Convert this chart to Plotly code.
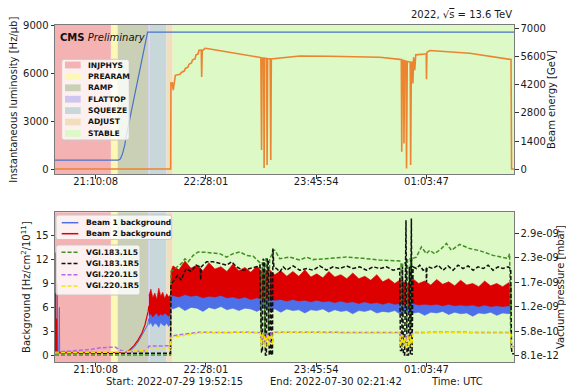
import plotly.graph_objects as go
from datetime import datetime, timedelta

# ---------------- data (time = minutes after 2022-07-29 20:00 UTC) ----------------
T0 = datetime(2022, 7, 29, 20, 0, 0)

# LHC beam modes
band_names = ["INJPHYS", "PREARAM", "RAMP", "FLATTOP", "SQUEEZE", "ADJUST", "STABLE"]
band_edges = [-7.75, 80.9, 85.65, 107.25, 108.1, 120.2, 124.5, 381.7]
band_colors = ["rgb(245,178,178)", "rgb(253,248,182)", "rgb(201,208,182)", "rgb(206,198,238)",
               "rgb(200,216,218)", "rgb(241,223,188)", "rgb(221,249,198)"]

# top panel: beam energy [GeV]
en_t = [41.4, 86.1, 87.6, 89.0, 90.5, 92.2, 106.8, 365.6]
en_v = [450, 450, 520, 750, 1150, 1800, 6800, 6800]

# top panel: instantaneous luminosity [Hz/ub]
lum_t = [41.4, 123.1, 123.3, 124.2, 124.9, 125.7, 126.4, 129.6, 130.7, 132.8, 133.5, 135.3, 136.0,
         137.8, 138.5, 140.3, 141.0, 142.4, 143.1, 144.7, 145.0, 145.4, 146.6, 147.3, 148.7,
         186.8, 187.3, 187.7, 188.8, 189.1, 189.5, 190.9, 191.2, 191.6, 193.4, 193.8, 194.2,
         200.2, 214.3, 235.5, 256.7, 270.8, 284.9, 286.0, 286.3, 286.7, 287.6, 287.9, 288.3,
         289.3, 289.7, 290.2, 292.3, 292.6, 293.1, 294.0, 294.2, 294.7, 295.5, 296.2, 302.5,
         303.6, 303.8, 304.1, 306.1, 334.3, 363.5, 363.9, 365.6]
lum_v = [0, 0, 5390, 5400, 4940, 5400, 5870, 5930, 6050, 6150, 6300, 6380, 6560,
         6650, 6830, 6900, 7150, 7200, 7440, 7450, 5770, 7400, 7500, 7560, 7550,
         6980, 1190, 6960, 6950, 60, 6940, 6930, 250, 6920, 6910, 560, 6900,
         6960, 7080, 7060, 7000, 7000, 6870, 6850, 1080, 6820, 6800, 1600, 6780,
         6760, 40, 6740, 6700, 250, 6680, 6700, 5350, 7000, 6190, 7150, 7200,
         7200, 5620, 7300, 7420, 7250, 6860, 0, 0]

# bottom panel: beam backgrounds [Hz/cm2/1e11] - quiet part (single line)
b1_line_t = [41.4, 42.9, 43.0, 43.2, 44.0, 44.1, 44.3, 44.5, 44.7, 92.2, 95.0, 97.8, 100.6, 103.5, 106.8, 107.7]
b1_line_v = [0.4, 0.4, 9.0, 0.4, 0.4, 6.0, 0.4, 6.0, 0.4, 0.35, 0.6, 1.1, 1.8, 2.8, 3.8, 4.6]
b2_line_t = [41.4, 41.5, 41.7, 41.8, 42.0, 42.3, 42.5, 42.6, 42.8, 91.5, 94.3, 97.2, 100.0, 102.8, 104.9, 106.3, 107.2, 107.7]
b2_line_v = [0.3, 12.9, 0.3, 12.6, 0.3, 4.6, 0.3, 4.4, 0.3, 0.35, 0.7, 1.2, 1.9, 2.8, 3.8, 4.7, 5.5, 6.2]

# bottom panel: beam backgrounds - noisy part (envelope, squeeze + stable beams)
sq_t = [107.7, 109.1, 110.5, 111.9, 113.3, 114.7, 116.1, 117.5, 118.9, 120.3, 121.7, 123.0]
b2_sq_hi = [7.5, 8.3, 7.2, 7.8, 7.0, 8.4, 7.4, 7.9, 7.1, 7.7, 7.3, 7.6]
b2_sq_lo = [5.0, 5.2, 4.8, 5.1, 5.3, 4.9, 5.2, 5.0, 5.3, 5.1, 4.9, 5.2]
b1_sq_hi = [5.6, 5.9, 5.5, 5.8, 5.7, 5.9, 5.6, 5.8, 5.5, 5.7, 5.6, 5.8]
b1_sq_lo = [3.8, 4.1, 3.6, 4.0, 3.9, 3.5, 4.1, 3.8, 3.7, 4.0, 3.6, 3.9]

st_t = [123.4, 124.7, 128.9, 133.2, 137.4, 141.6, 145.9, 150.1, 154.3, 158.6, 162.8, 167.0, 171.3,
        175.5, 179.7, 184.0, 188.2, 192.4, 196.7, 200.9, 205.1, 209.4, 213.6, 217.9, 222.1, 226.3,
        230.6, 234.8, 239.0, 243.3, 247.5, 251.7, 256.0, 260.2, 264.4, 268.7, 272.9, 277.1, 281.4,
        285.6, 289.8, 294.1, 298.3, 302.5, 306.8, 311.0, 315.2, 319.5, 323.7, 327.9, 332.2, 336.4,
        340.7, 344.9, 349.1, 353.4, 357.6, 361.8, 363.6]
b2_st_hi = [10.6, 11.2, 10.7, 11.8, 10.9, 11.3, 10.6, 11.6, 10.8, 11.1, 10.5, 11.4, 10.6,
            11.0, 10.4, 11.2, 10.3, 10.8, 10.1, 10.6, 9.9, 10.5, 9.9, 10.7, 9.8, 10.2,
            9.7, 10.5, 9.8, 10.1, 9.6, 10.3, 9.6, 9.9, 9.4, 10.1, 9.2, 9.6, 9.0,
            9.5, 8.9, 9.6, 9.0, 9.3, 8.8, 9.5, 8.9, 9.2, 8.7, 9.4, 8.8, 9.0,
            8.6, 9.3, 8.7, 9.0, 8.6, 9.1, 8.7]
b2_st_lo = [7.4, 7.5, 7.3, 7.6, 7.4, 7.5, 7.2, 7.4, 7.3, 7.5, 7.2, 7.3, 7.1,
            7.3, 7.0, 7.2, 7.0, 7.1, 6.9, 7.0, 6.8, 7.0, 6.8, 6.9, 6.7, 6.9,
            6.7, 6.8, 6.6, 6.8, 6.6, 6.7, 6.5, 6.7, 6.5, 6.6, 6.4, 6.6, 6.4,
            6.5, 6.3, 6.5, 6.3, 6.4, 6.3, 6.4, 6.2, 6.4, 6.2, 6.3, 6.2, 6.3,
            6.1, 6.3, 6.1, 6.2, 6.1, 6.2, 6.1]
b1_st_hi = [8.0, 8.1, 7.9, 8.2, 8.0, 8.1, 7.8, 8.0, 7.9, 8.1, 7.8, 7.9, 7.7,
            7.9, 7.6, 7.8, 7.6, 7.7, 7.5, 7.6, 7.4, 7.6, 7.4, 7.5, 7.3, 7.5,
            7.3, 7.4, 7.2, 7.4, 7.2, 7.3, 7.1, 7.3, 7.1, 7.2, 7.0, 7.2, 7.0,
            7.1, 6.9, 7.1, 6.9, 7.0, 6.9, 7.0, 6.8, 7.0, 6.8, 6.9, 6.8, 6.9,
            6.7, 6.9, 6.7, 6.8, 6.7, 6.8, 6.7]
b1_st_lo = [6.0, 5.8, 6.1, 5.6, 6.0, 5.9, 5.5, 6.0, 5.8, 6.1, 5.7, 5.9, 5.6,
            5.9, 5.8, 5.5, 5.9, 5.7, 5.8, 5.4, 5.8, 5.6, 5.7, 5.3, 5.7, 5.6,
            5.8, 5.4, 5.7, 5.5, 5.6, 5.2, 5.6, 5.5, 5.7, 5.3, 5.5, 5.4, 5.6,
            5.1, 5.5, 5.3, 5.4, 5.0, 5.4, 5.3, 5.5, 5.1, 5.4, 5.2, 5.3, 4.9,
            5.3, 5.2, 5.4, 5.0, 5.3, 5.2, 5.3]

# bottom panel: vacuum gauges [1e-9 mbar]
g183l_t = [41.4, 123.0, 123.4, 127.3, 130.8, 133.2, 135.5, 139.0, 142.5, 148.5, 157.9, 162.6, 167.2,
           172.0, 176.7, 181.4, 184.9, 186.4, 187.0, 187.8, 189.2, 189.7, 190.4, 191.6, 192.2, 193.0,
           194.6, 195.2, 196.7, 200.2, 207.3, 214.3, 219.0, 223.7, 235.5, 247.3, 259.0, 270.8, 284.9,
           285.8, 286.3, 286.9, 289.5, 289.9, 290.4, 292.4, 292.8, 293.3, 296.6, 300.2, 303.7, 306.1,
           309.6, 314.3, 317.9, 321.4, 327.2, 334.3, 341.4, 350.8, 361.3, 362.5, 363.4, 365.6]
g183l_v = [0.03, 0.03, 2.00, 2.11, 2.19, 2.30, 2.23, 2.38, 2.46, 2.45, 2.42, 2.34, 2.42,
           2.46, 2.38, 2.36, 2.23, 2.20, 0.60, 2.20, 2.20, 0.50, 2.30, 2.30, 0.60, 2.30,
           2.40, 2.50, 2.50, 2.30, 2.34, 2.27, 2.34, 2.28, 2.31, 2.34, 2.31, 2.27, 2.25,
           2.20, 0.80, 2.20, 2.20, 0.60, 2.30, 2.30, 0.70, 2.30, 2.34, 2.58, 2.42, 2.50,
           2.42, 2.54, 2.66, 2.50, 2.64, 2.54, 2.49, 2.38, 2.31, 2.42, 0.22, 0.22]

g183r_t = [41.4, 123.0, 123.3, 125.7, 128.1, 130.5, 134.0, 137.6, 141.1, 143.9, 144.3, 144.7, 148.5,
           153.0, 157.9, 162.6, 166.1, 169.6, 174.1, 179.0, 183.7, 186.1, 187.3, 187.9, 188.4, 189.3,
           190.0, 190.7, 191.3, 192.0, 192.7, 193.4, 193.9, 194.4, 195.0, 195.3, 196.0, 197.9, 200.2,
           202.6, 204.9, 209.6, 214.3, 219.0, 223.7, 228.4, 233.2, 237.8, 242.6, 247.3, 252.0, 256.7,
           261.4, 266.1, 270.8, 275.5, 280.2, 284.9, 285.4, 286.3, 286.8, 287.5, 288.4, 289.3, 290.0,
           291.0, 291.7, 292.4, 293.1, 293.6, 294.3, 296.7, 299.0, 301.4, 303.5, 303.8, 304.1, 304.9,
           308.4, 312.0, 315.5, 319.0, 322.6, 326.1, 329.6, 333.2, 336.7, 340.2, 343.9, 347.3, 350.8,
           354.4, 357.8, 361.4, 363.3, 363.8, 364.2, 365.6]
g183r_v = [0.07, 0.07, 1.70, 1.80, 1.91, 1.80, 2.07, 2.00, 2.15, 2.11, 1.80, 2.11, 2.23,
           2.23, 2.19, 2.15, 2.23, 2.11, 2.03, 2.07, 2.11, 2.15, 0.10, 0.10, 2.30, 2.25,
           0.03, 0.03, 2.30, 2.25, 0.03, 0.03, 2.00, 0.03, 0.03, 2.54, 2.10, 2.07, 1.99,
           2.11, 2.03, 2.13, 2.03, 2.07, 2.03, 2.13, 2.03, 2.11, 2.07, 2.13, 2.07, 2.11,
           2.03, 2.11, 2.07, 2.11, 2.03, 2.07, 0.14, 0.14, 2.11, 0.03, 0.03, 3.21, 0.03,
           0.03, 2.11, 0.03, 3.25, 0.03, 2.11, 2.07, 2.15, 2.03, 2.07, 1.75, 2.07, 2.11,
           2.07, 2.15, 2.03, 2.13, 2.03, 2.15, 2.07, 2.13, 2.03, 2.11, 2.07, 2.15, 2.03,
           2.11, 2.07, 2.11, 2.07, 0.20, 0.06, 0.06]

g220l_t = [41.4, 52.0, 66.1, 73.2, 80.2, 83.8, 87.3, 90.8, 94.3, 101.4, 106.3, 107.7, 123.0, 123.4,
           129.6, 136.7, 143.7, 160.0, 175.0, 186.6, 187.5, 188.4, 190.1, 191.0, 193.0, 194.0, 196.0,
           215.0, 245.0, 275.0, 285.2, 286.0, 287.2, 288.8, 290.0, 291.6, 292.8, 294.4, 320.0, 345.0,
           363.2, 363.8, 365.6]
g220l_v = [0.10, 0.12, 0.16, 0.20, 0.22, 0.22, 0.15, 0.10, 0.10, 0.12, 0.14, 0.24, 0.25, 0.48,
           0.50, 0.54, 0.57, 0.56, 0.57, 0.56, 0.30, 0.55, 0.28, 0.55, 0.32, 0.55, 0.57,
           0.57, 0.56, 0.56, 0.56, 0.30, 0.50, 0.24, 0.50, 0.28, 0.50, 0.56, 0.57, 0.56,
           0.56, 0.22, 0.22]

g220r_t = [41.4, 85.0, 106.5, 107.5, 123.0, 123.4, 126.4, 133.5, 143.7, 157.9, 172.0, 186.4, 187.2,
           187.9, 189.4, 190.0, 190.8, 192.0, 192.6, 193.4, 194.4, 195.0, 195.8, 210.0, 240.0, 270.0,
           284.9, 285.6, 286.6, 287.5, 288.6, 289.6, 290.6, 291.4, 292.4, 293.2, 294.2, 295.5, 320.0,
           345.0, 363.2, 363.8, 365.6]
g220r_v = [0.08, 0.10, 0.14, 0.20, 0.20, 0.44, 0.46, 0.50, 0.55, 0.56, 0.55, 0.55, 0.22,
           0.50, 0.50, 0.20, 0.48, 0.48, 0.24, 0.50, 0.50, 0.28, 0.55, 0.56, 0.55, 0.55,
           0.55, 0.25, 0.50, 0.22, 0.45, 0.20, 0.50, 0.24, 0.48, 0.22, 0.52, 0.55, 0.56,
           0.55, 0.55, 0.22, 0.20]

x_tick_labels = ["21:10:08", "22:28:01", "23:45:54", "01:03:47"]
x_range = ["2022-07-29 20:41:24", "2022-07-30 02:05:36"]
lum_ticks = [0, 3000, 6000, 9000]
en_ticks = [0, 1400, 2800, 4200, 5600, 7000]
bkg_ticks = [0, 3, 6, 9, 12, 15]
vac_ticks = [8.1e-12, 5.86e-10, 1.164e-09, 1.742e-09, 2.32e-09, 2.898e-09]
vac_tick_text = ["8.1e-12", "5.8e-10", "1.2e-09", "1.7e-09", "2.3e-09", "2.9e-09"]

# ---------------- helpers ----------------
def ts(mins):
    return [T0 + timedelta(minutes=m) for m in mins]

def hms(s):
    h, m, sec = [int(v) for v in s.split(":")]
    day = 29 if h >= 12 else 30
    return datetime(2022, 7, day, h, m, sec)

W, H = 566, 387
ML, MR, MT, MB = 55, 52, 25, 25
PW, PH = W - ML - MR, H - MT - MB
def px(x):
    return (x - ML) / PW
def py(y):
    return (H - MB - y) / PH

FONT = "DejaVu Sans"
C_LUM = "#ec8430"
C_EN = "#4a72c8"
C_B1 = "#4d6fe8"
C_B2 = "#dd0000"
C_G = "#3f8f22"
C_K = "#111111"
C_P = "#b36ae6"
C_Y = "#f2e600"
DASH = "4px,2px"

fig = go.Figure()

# top panel
fig.add_trace(go.Scatter(x=ts(lum_t), y=lum_v, mode="lines", line=dict(color=C_LUM, width=1.6),
                         xaxis="x", yaxis="y", showlegend=False))
fig.add_trace(go.Scatter(x=ts(en_t), y=en_v, mode="lines", line=dict(color=C_EN, width=1.2),
                         xaxis="x", yaxis="y2", showlegend=False))

# bottom panel: backgrounds
band_t = sq_t + st_t
b1_hi = b1_sq_hi + b1_st_hi
b1_lo = b1_sq_lo + b1_st_lo
b2_hi = b2_sq_hi + b2_st_hi
b2_lo = b2_sq_lo + b2_st_lo

fig.add_trace(go.Scatter(x=ts(b1_line_t), y=b1_line_v, mode="lines", line=dict(color=C_B1, width=1),
                         xaxis="x2", yaxis="y3", showlegend=False))
fig.add_trace(go.Scatter(x=ts(band_t + band_t[::-1]), y=b1_hi + b1_lo[::-1], mode="lines",
                         fill="toself", fillcolor=C_B1, line=dict(color=C_B1, width=0.6),
                         xaxis="x2", yaxis="y3", showlegend=False))
fig.add_trace(go.Scatter(x=ts(b2_line_t), y=b2_line_v, mode="lines", line=dict(color=C_B2, width=1.2),
                         xaxis="x2", yaxis="y3", showlegend=False))
fig.add_trace(go.Scatter(x=ts(band_t + band_t[::-1]), y=b2_hi + b2_lo[::-1], mode="lines",
                         fill="toself", fillcolor=C_B2, line=dict(color=C_B2, width=0.6),
                         xaxis="x2", yaxis="y3", showlegend=False))

# bottom panel: vacuum
for tt, vv, col in [(g183l_t, g183l_v, C_G), (g183r_t, g183r_v, C_K),
                    (g220l_t, g220l_v, C_P), (g220r_t, g220r_v, C_Y)]:
    fig.add_trace(go.Scatter(x=ts(tt), y=[v * 1e-9 for v in vv], mode="lines",
                             line=dict(color=col, width=1.5, dash=DASH),
                             xaxis="x2", yaxis="y4", showlegend=False))

shapes = []
# beam-mode bands in both panels
for xr, yr in [("x", "y domain"), ("x2", "y3 domain")]:
    for i, name in enumerate(band_names):
        shapes.append(dict(type="rect", xref=xr, yref=yr, x0=ts([band_edges[i]])[0],
                           x1=ts([band_edges[i + 1]])[0], y0=0, y1=1, fillcolor=band_colors[i],
                           line=dict(width=0), layer="below"))

def rbox(x0, y0, x1, y1, r=2.5):
    rx, ry = r / PW, r / PH
    a, b, c, d = px(x0), py(y1), px(x1), py(y0)  # left, bottom, right, top (paper)
    path = (f"M{a+rx},{b} L{c-rx},{b} Q{c},{b} {c},{b+ry} L{c},{d-ry} Q{c},{d} {c-rx},{d} "
            f"L{a+rx},{d} Q{a},{d} {a},{d-ry} L{a},{b+ry} Q{a},{b} {a+rx},{b} Z")
    return dict(type="path", xref="paper", yref="paper", path=path,
                fillcolor="rgba(255,255,255,0.8)", line=dict(color="rgba(200,200,200,1)", width=1),
                layer="above")

annotations = []
LEGF = dict(family=FONT, size=7.6, color="#111")

# legend 1: beam modes
shapes.append(rbox(61.7, 59.3, 129.3, 140))
for i, name in enumerate(band_names):
    yc = 65 + i * 11.4
    shapes.append(dict(type="rect", xref="paper", yref="paper", x0=px(65), x1=px(80.7),
                       y0=py(yc + 3.4), y1=py(yc - 3.4), fillcolor=band_colors[i],
                       line=dict(width=0), layer="above"))
    annotations.append(dict(x=px(86), y=py(yc), xref="paper", yref="paper", text=f"<b>{name}</b>",
                            showarrow=False, xanchor="left", yanchor="middle", font=LEGF))

# legend 2: backgrounds
shapes.append(rbox(56, 215, 171.7, 239.5))
for i, (name, col) in enumerate([("Beam 1 background", C_B1), ("Beam 2 background", C_B2)]):
    yc = 222.7 + i * 11
    shapes.append(dict(type="line", xref="paper", yref="paper", x0=px(61.7), x1=px(78.3),
                       y0=py(yc), y1=py(yc), line=dict(color=col, width=1.5), layer="above"))
    annotations.append(dict(x=px(84), y=py(yc), xref="paper", yref="paper", text=f"<b>{name}</b>",
                            showarrow=False, xanchor="left", yanchor="middle", font=LEGF))

# legend 3: vacuum gauges
shapes.append(rbox(56, 245, 140, 295))
for i, (name, col) in enumerate([("VGI.183.1L5", C_G), ("VGI.183.1R5", C_K),
                                 ("VGI.220.1L5", C_P), ("VGI.220.1R5", C_Y)]):
    yc = 252.3 + i * 11.2
    shapes.append(dict(type="line", xref="paper", yref="paper", x0=px(61.5), x1=px(79),
                       y0=py(yc), y1=py(yc), line=dict(color=col, width=1.5, dash=DASH),
                       layer="above"))
    annotations.append(dict(x=px(84), y=py(yc), xref="paper", yref="paper", text=f"<b>{name}</b>",
                            showarrow=False, xanchor="left", yanchor="middle", font=LEGF))

TXT = dict(family=FONT, size=10, color="#1a1a1a")
annotations += [
    dict(x=px(58), y=py(37), xref="paper", yref="paper", text="<b>CMS</b> <i>Preliminary</i>",
         showarrow=False, xanchor="left", yanchor="middle", font=dict(family=FONT, size=10, color="#111")),
    dict(x=1.0, y=py(14), xref="paper", yref="paper",
         text="2022, √<span style='text-decoration:overline'>s</span> = 13.6 TeV",
         showarrow=False, xanchor="right", yanchor="middle", font=TXT),
    dict(x=px(104.3), y=py(381.3), xref="paper", yref="paper", text="Start: 2022-07-29 19:52:15",
         showarrow=False, xanchor="left", yanchor="middle", font=TXT),
    dict(x=px(268.3), y=py(381.3), xref="paper", yref="paper", text="End: 2022-07-30 02:21:42",
         showarrow=False, xanchor="left", yanchor="middle", font=TXT),
    dict(x=px(429.3), y=py(381.3), xref="paper", yref="paper", text="Time: UTC",
         showarrow=False, xanchor="left", yanchor="middle", font=TXT),
]

LINEC = "#7a7a7a"
xcommon = dict(type="date", range=x_range, tickvals=[hms(s) for s in x_tick_labels], ticktext=x_tick_labels,
               ticks="outside", ticklen=3.5, tickwidth=0.8, tickcolor="#333", showline=True, mirror=True,
               linecolor=LINEC, linewidth=1, showgrid=False, zeroline=False, tickfont=TXT, automargin=False,
               ticklabelstandoff=-6)
ycommon = dict(ticks="outside", ticklen=3.5, tickwidth=0.8, tickcolor="#333", showline=True, mirror=True,
               linecolor=LINEC, linewidth=1, showgrid=False, zeroline=False, tickfont=TXT, automargin=False)

TOP = [0.557, 1.0]
BOT = [0.0, 0.444]
fig.update_layout(
    width=W, height=H, margin=dict(l=ML, r=MR, t=MT, b=MB, autoexpand=False),
    paper_bgcolor="white", plot_bgcolor="white", showlegend=False,
    font=dict(family=FONT, size=10, color="#1a1a1a"),
    xaxis=dict(domain=[0, 1], anchor="y", **xcommon),
    xaxis2=dict(domain=[0, 1], anchor="y3", **xcommon),
    yaxis=dict(domain=TOP, anchor="x", range=[-330, 9020], tickvals=lum_ticks,
               title=dict(text="Instantaneous luminosity [Hz/μb]", font=TXT, standoff=3), **ycommon),
    yaxis2=dict(overlaying="y", side="right", anchor="x", range=[-250, 7150], tickvals=en_ticks,
                title=dict(text="Beam energy [GeV]", font=TXT, standoff=3), **ycommon),
    yaxis3=dict(domain=BOT, anchor="x2", range=[-0.84, 17.9], tickvals=bkg_ticks,
                title=dict(text="Background [Hz/cm<sup>2</sup>/10<sup>11</sup>]", font=TXT, standoff=3),
                **ycommon),
    yaxis4=dict(overlaying="y3", side="right", anchor="x2", range=[-1.336e-10, 3.394e-09],
                tickvals=vac_ticks, ticktext=vac_tick_text,
                title=dict(text="Vacuum pressure [mbar]", font=TXT, standoff=3), **ycommon),
    shapes=shapes, annotations=annotations,
)

fig.write_html("out.html", config={"displayModeBar": False},
               post_script="document.body.style.margin='0';document.body.style.overflow='hidden';")
